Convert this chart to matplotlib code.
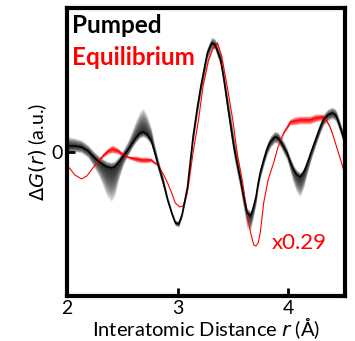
import numpy as np
import matplotlib
matplotlib.use('Agg')
import matplotlib.pyplot as plt

plt.rcParams['font.family'] = ['Lato', 'DejaVu Sans']
plt.rcParams['mathtext.fontset'] = 'dejavusans'

# pumped (black) - centre line and spread of the ensemble
r_pump = [2.00, 2.02, 2.07, 2.13, 2.19, 2.24, 2.29, 2.33, 2.36, 2.40, 2.43, 2.47, 2.51,
          2.55, 2.59, 2.62, 2.66, 2.69, 2.72, 2.76, 2.79, 2.82, 2.87, 2.91, 2.95,
          2.98, 3.01, 3.04, 3.09, 3.14, 3.18, 3.21, 3.25, 3.27, 3.31, 3.34, 3.36,
          3.39, 3.42, 3.45, 3.48, 3.51, 3.54, 3.57, 3.60, 3.63, 3.66, 3.68, 3.71,
          3.73, 3.75, 3.78, 3.81, 3.84, 3.88, 3.91, 3.94, 3.97, 3.99, 4.02, 4.05,
          4.08, 4.11, 4.14, 4.17, 4.21, 4.26, 4.29, 4.32, 4.36, 4.40, 4.43, 4.45,
          4.48, 4.50, 4.53]
g_pump = [7, 6, 6, 5, 1, -5, -10, -13, -15, -16, -15, -10, -4,
          2, 9, 14, 19, 20, 18, 12, 1, -11, -30, -48, -62,
          -71, -72, -63, -35, 15, 45, 65, 88, 99, 109, 107, 101,
          92, 72, 49, 27, 5, -12, -28, -46, -61, -64, -58, -45,
          -31, -20, -8, 3, 10, 15, 14, 9, 3, -1, -10, -18,
          -23, -25, -21, -13, 0, 15, 24, 32, 37, 39, 37, 32,
          22, 15, 2]
up_pump = [9, 9, 8, 7, 6, 6, 6, 6, 6, 6, 6, 6, 7,
           9, 13, 17, 22, 24, 20, 13, 8, 6, 5, 4, 3,
           3, 3, 3, 5, 7, 7, 7, 7, 6, 6, 6, 6,
           7, 8, 10, 11, 11, 10, 8, 6, 5, 5, 5, 6,
           6, 6, 6, 6, 6, 6, 6, 6, 6, 5, 5, 5,
           5, 5, 5, 5, 5, 6, 6, 6, 6, 6, 6, 6,
           6, 7, 7]
dn_pump = [7, 7, 6, 6, 7, 10, 15, 23, 30, 34, 30, 17, 9,
           6, 5, 5, 5, 5, 5, 5, 6, 7, 6, 4, 3,
           3, 3, 3, 5, 7, 7, 7, 7, 6, 5, 5, 6,
           7, 8, 10, 11, 11, 11, 11, 13, 16, 15, 11, 8,
           6, 6, 6, 6, 6, 6, 6, 6, 7, 7, 10, 14,
           18, 20, 16, 11, 8, 6, 6, 6, 6, 6, 6, 6,
           6, 7, 7]

# equilibrium (red, scaled x0.29)
r_eq = [2.00, 2.02, 2.07, 2.13, 2.18, 2.24, 2.29, 2.33, 2.37, 2.41, 2.46, 2.51, 2.55,
        2.58, 2.63, 2.67, 2.72, 2.76, 2.82, 2.87, 2.91, 2.95, 2.98, 3.02, 3.05,
        3.08, 3.10, 3.14, 3.19, 3.23, 3.28, 3.32, 3.36, 3.40, 3.45, 3.50, 3.54,
        3.59, 3.63, 3.66, 3.69, 3.71, 3.73, 3.75, 3.78, 3.82, 3.87, 3.91, 3.96,
        4.02, 4.06, 4.11, 4.16, 4.20, 4.25, 4.31, 4.34, 4.38, 4.41, 4.44, 4.48, 4.52]
g_eq = [-14, -16, -23, -27, -24, -15, -8, -3, 1, 3, 1, -3, -5,
        -6, -7, -8, -8, -8, -13, -22, -31, -42, -51, -55, -54,
        -45, -33, -1, 32, 65, 92, 104, 109, 95, 65, 32, -1,
        -31, -61, -80, -93, -94, -91, -80, -51, -28, -11, 5, 19,
        30, 31, 32, 32, 32, 34, 35, 33, 25, 16, 5, -9, -25]
band_eq = [0, 0, 0, 0, 0, 0, 1, 2, 3, 4, 3, 2, 1,
           2, 3, 3, 3, 2, 1, 0, 0, 0, 0, 0, 0,
           0, 0, 0, 0, 0, 1, 1, 1, 1, 0, 0, 0,
           0, 0, 0, 0, 0, 0, 0, 0, 0, 0, 0, 1,
           3, 4, 4, 4, 4, 4, 3, 2, 1, 0, 0, 0, 0]

r_pump = np.array(r_pump)
g_pump = np.array(g_pump, dtype=float)
up_pump = np.array(up_pump, dtype=float)
dn_pump = np.array(dn_pump, dtype=float)
r_eq = np.array(r_eq)
g_eq = np.array(g_eq, dtype=float)
band_eq = np.array(band_eq, dtype=float)

fig = plt.figure(figsize=(3.55, 3.41), dpi=100)
ax = fig.add_axes([0.189, 0.132, 0.784, 0.845])

# blurred ensemble band, darker towards the centre
for f in np.linspace(0.05, 1.0, 22):
    ax.fill_between(r_pump, g_pump - f * dn_pump, g_pump + f * up_pump,
                    color='k', alpha=0.07, lw=0)
for f in np.linspace(0.2, 1.0, 8):
    ax.fill_between(r_eq, g_eq - f * band_eq, g_eq + f * band_eq,
                    color='r', alpha=0.2, lw=0)

ax.plot(r_eq, g_eq, color='r', lw=0.8)
ax.plot(r_pump, g_pump, color='k', lw=1.1)

ax.set_xlim(2, 4.52)
ax.set_ylim(-144, 144)
ax.set_xticks([2, 3, 4])
ax.set_yticks([0])
ax.tick_params(direction='in', length=6, width=2, labelsize=14, pad=3)
for s in ax.spines.values():
    s.set_linewidth(3)

ax.set_xlabel(r'Interatomic Distance $r$ (Å)', fontsize=14.5, labelpad=-1)
ax.set_ylabel(r'$\Delta G(r)$ (a.u.)', fontsize=14, labelpad=2)

ax.text(0.018, 0.94, 'Pumped', transform=ax.transAxes, fontsize=17.5,
        fontweight='bold', color='k', va='center')
ax.text(0.018, 0.826, 'Equilibrium', transform=ax.transAxes, fontsize=17.5,
        fontweight='bold', color='r', va='center')
ax.text(0.736, 0.184, 'x0.29', transform=ax.transAxes, fontsize=16,
        color='r', va='center')

fig.savefig('out.png', dpi=100)
